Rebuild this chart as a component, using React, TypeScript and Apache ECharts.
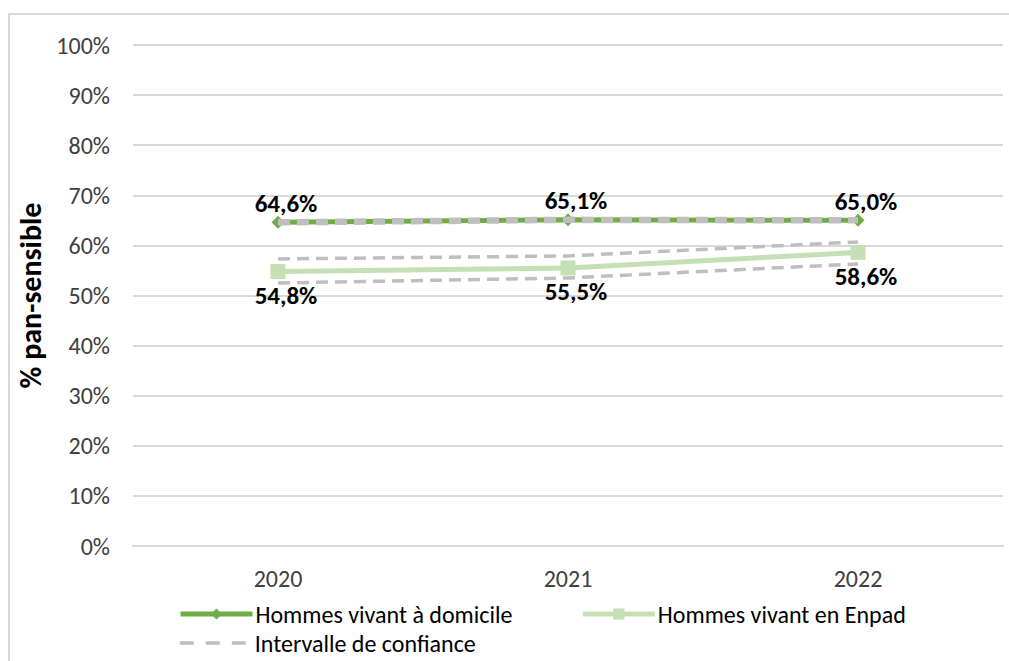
import React, { useEffect, useRef } from "react";
import * as echarts from "echarts";

const years = ["2020", "2021", "2022"];
const domicile = [64.6, 65.1, 65.0];
const enpad = [54.8, 55.5, 58.6];
const domicileUpper = [64.9, 65.4, 65.3];
const domicileLower = [64.3, 64.8, 64.7];
const enpadUpper = [57.3, 57.9, 60.7];
const enpadLower = [52.5, 53.5, 56.3];

const NAME_DOM = "Hommes vivant à domicile";
const NAME_ENP = "Hommes vivant en Enpad";
const NAME_CI = "Intervalle de confiance";

const FONT = "Carlito, Lato, sans-serif";

const fmt = (v: number) => v.toFixed(1).replace(".", ",") + "%";

export default function App() {
  const ref = useRef<HTMLDivElement>(null);
  useEffect(() => {
    document.body.style.margin = "0";
    if (!ref.current) return;
    const chart = echarts.init(ref.current, null, { renderer: "svg" });
    const ciSeries = (data: number[]) => ({
      name: NAME_CI,
      type: "line",
      data,
      symbol: "none",
      z: 5,
      lineStyle: { color: "#BFBFBF", width: 3.5, type: [12, 7] },
      itemStyle: { color: "#BFBFBF" },
      emphasis: { disabled: true },
    });
    const legendText = { fontSize: 24, color: "#000", fontFamily: FONT, padding: [0, 0, 0, -2] };
    chart.setOption({
      animation: false,
      textStyle: { fontFamily: FONT },
      graphic: [
        {
          type: "rect",
          z: -10,
          shape: { x: 9, y: 14, width: 1100, height: 700 },
          style: { fill: "none", stroke: "#D9D9D9", lineWidth: 2 },
        },
      ],
      grid: { left: 133, right: 6, top: 45, bottom: 115 },
      legend: [
        {
          data: [NAME_DOM, NAME_ENP],
          left: 178,
          top: 602,
          padding: 0,
          itemWidth: 72,
          itemHeight: 14,
          itemGap: 68,
          lineStyle: { width: 5 },
          textStyle: legendText,
        },
        {
          data: [{ name: NAME_CI, itemStyle: { opacity: 0 } }],
          left: 178,
          top: 631,
          padding: 0,
          itemWidth: 72,
          itemHeight: 14,
          lineStyle: { width: 3.5, type: [14, 12] },
          textStyle: legendText,
        },
      ],
      xAxis: {
        type: "category",
        data: years,
        boundaryGap: true,
        axisLine: { lineStyle: { color: "#D9D9D9", width: 2 } },
        axisTick: { show: false },
        axisLabel: { fontSize: 24, color: "#404040", margin: 20, fontFamily: FONT },
      },
      yAxis: {
        type: "value",
        min: 0,
        max: 100,
        interval: 10,
        name: "% pan-sensible",
        nameLocation: "middle",
        nameGap: 84,
        nameTextStyle: { fontSize: 30, fontWeight: "bold", color: "#000", fontFamily: FONT },
        axisLabel: { formatter: "{value}%", fontSize: 24, color: "#404040", margin: 23, fontFamily: FONT },
        splitLine: { lineStyle: { color: "#D9D9D9", width: 2 } },
        axisLine: { show: false },
        axisTick: { show: false },
      },
      series: [
        {
          name: NAME_DOM,
          type: "line",
          data: domicile,
          symbol: "diamond",
          symbolSize: 13,
          z: 3,
          lineStyle: { color: "#70AD47", width: 5 },
          itemStyle: { color: "#70AD47" },
          label: {
            show: true,
            position: "top",
            distance: 0,
            offset: [8, 0],
            formatter: (p: any) => fmt(p.value),
            fontSize: 25,
            fontWeight: "bold",
            color: "#000",
            fontFamily: FONT,
          },
        },
        {
          name: NAME_ENP,
          type: "line",
          data: enpad,
          symbol: "rect",
          symbolSize: 15,
          z: 3,
          lineStyle: { color: "#C5E0B4", width: 5 },
          itemStyle: { color: "#C5E0B4" },
          label: {
            show: true,
            position: "bottom",
            distance: 4,
            offset: [8, 0],
            formatter: (p: any) => fmt(p.value),
            fontSize: 25,
            fontWeight: "bold",
            color: "#000",
            fontFamily: FONT,
          },
        },
        ciSeries(domicileUpper),
        ciSeries(domicileLower),
        ciSeries(enpadUpper),
        ciSeries(enpadLower),
      ],
    });
    return () => chart.dispose();
  }, []);
  return <div ref={ref} style={{ width: 1009, height: 661 }} />;
}
